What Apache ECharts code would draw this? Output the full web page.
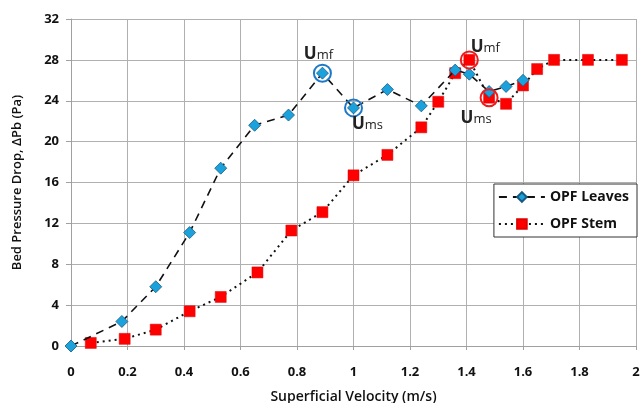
<!DOCTYPE html>
<html>
<head>
    <meta charset="utf-8">
    <title>Bed Pressure Drop</title>
    <script src="https://cdn.jsdelivr.net/npm/echarts@6/dist/echarts.min.js"></script>
    <style type="text/css">
    html, body { margin: 0; padding: 0; background: #fff; }
    #chart { width: 640px; height: 403px; }
    </style>
</head>
<body>
    <div id="chart"></div>
    <script>
    // data
    var leavesX = [0, 0.18, 0.30, 0.42, 0.53, 0.65, 0.77, 0.89, 1.00, 1.12, 1.24, 1.36, 1.41, 1.48, 1.54, 1.60];
    var leavesY = [0, 2.4, 5.8, 11.1, 17.4, 21.6, 22.6, 26.7, 23.3, 25.1, 23.5, 27.0, 26.6, 24.9, 25.4, 26.0];
    var stemX = [0.07, 0.19, 0.30, 0.42, 0.53, 0.66, 0.78, 0.89, 1.00, 1.12, 1.24, 1.30, 1.36, 1.41, 1.48, 1.54, 1.60, 1.65, 1.71, 1.83, 1.95];
    var stemY = [0.3, 0.7, 1.6, 3.4, 4.8, 7.2, 11.3, 13.1, 16.7, 18.7, 21.4, 23.9, 26.7, 28.0, 24.3, 23.7, 25.5, 27.1, 28.0, 28.0, 28.0];
    // Umf / Ums points (index into the series above)
    var leavesMarks = [7, 8];
    var stemMarks = [13, 14];
    var markNames = ['mf', 'ms'];

    function pairs(xs, ys) {
        var out = [];
        for (var i = 0; i < xs.length; i++) out.push([xs[i], ys[i]]);
        return out;
    }

    var labelOffsets = {
        leaves: [[-4, 4], [14, 39]],
        stem: [[16, 10], [-13, 43]]
    };

    function marks(xs, ys, idx, offs) {
        return idx.map(function (k, j) {
            return {
                value: [xs[k], ys[k]],
                label: {
                    show: true,
                    position: 'top',
                    offset: offs[j],
                    formatter: '{u|U}{s|' + markNames[j] + '}'
                }
            };
        });
    }

    var rich = {
        u: { fontSize: 17, fontWeight: 'bold', color: '#222', fontFamily: 'Open Sans' },
        s: { fontSize: 13, color: '#222', fontFamily: 'Open Sans', padding: [3, 0, 0, 0] }
    };

    var chart = echarts.init(document.getElementById('chart'));
    var option = {
        backgroundColor: '#fff',
        animation: false,
        grid: { left: 71, right: 4, top: 19, bottom: 57, outerBoundsMode: 'none', containLabel: false },
        xAxis: {
            type: 'value',
            min: 0, max: 2, interval: 0.2,
            name: 'Superficial Velocity (m/s)',
            nameLocation: 'middle',
            nameGap: 44,
            nameTextStyle: { fontSize: 14, fontWeight: 600, color: '#111', fontFamily: 'Open Sans' },
            axisLine: { lineStyle: { color: '#a0a0a0' } },
            axisTick: { show: true, length: 4, lineStyle: { color: '#a0a0a0' } },
            splitLine: { lineStyle: { color: '#b0b0b0' } },
            axisLabel: { fontSize: 13, fontWeight: 'bold', color: '#111', margin: 20, fontFamily: 'Open Sans' }
        },
        yAxis: {
            type: 'value',
            min: 0, max: 32, interval: 4,
            name: 'Bed Pressure Drop, ΔPb (Pa)',
            nameLocation: 'middle',
            nameGap: 47,
            nameTextStyle: { fontSize: 13, fontWeight: 600, color: '#111', fontFamily: 'Open Sans' },
            axisLine: { show: true, lineStyle: { color: '#a0a0a0' } },
            axisTick: { show: true, length: 5, lineStyle: { color: '#a0a0a0' } },
            splitLine: { lineStyle: { color: '#b0b0b0' } },
            axisLabel: { fontSize: 13, fontWeight: 'bold', color: '#111', margin: 12, fontFamily: 'Open Sans' }
        },
        legend: {
            orient: 'vertical',
            right: 3,
            top: 184,
            padding: [6, 8, 6, 4],
            itemGap: 13,
            itemWidth: 46,
            itemHeight: 12,
            borderColor: '#333',
            borderWidth: 1,
            backgroundColor: '#fff',
            data: ['OPF Leaves', 'OPF Stem'],
            textStyle: { fontSize: 14, fontWeight: 'bold', color: '#111', fontFamily: 'Open Sans' }
        },
        series: [
            {
                name: 'OPF Leaves',
                type: 'line',
                data: pairs(leavesX, leavesY),
                symbol: 'diamond',
                symbolSize: 12,
                itemStyle: { color: '#1ba1dc', borderColor: '#1a5a80', borderWidth: 0.8 },
                lineStyle: { color: '#111', width: 1.6, type: [8, 6] },
                z: 3
            },
            {
                name: 'OPF Stem',
                type: 'line',
                data: pairs(stemX, stemY),
                symbol: 'rect',
                symbolSize: 11,
                itemStyle: { color: '#ff0000', borderColor: '#e00000', borderWidth: 0.5 },
                lineStyle: { color: '#111', width: 2, type: [2, 4] },
                z: 2
            },
            {
                name: 'leaves marks',
                type: 'scatter',
                data: marks(leavesX, leavesY, leavesMarks, labelOffsets.leaves),
                symbol: 'circle',
                symbolSize: 17,
                itemStyle: { color: 'rgba(0,0,0,0)', borderColor: '#1e78c8', borderWidth: 2, opacity: 1 },
                label: { rich: rich, color: '#222' },
                silent: true,
                z: 4
            },
            {
                name: 'stem marks',
                type: 'scatter',
                data: marks(stemX, stemY, stemMarks, labelOffsets.stem),
                symbol: 'circle',
                symbolSize: 17,
                itemStyle: { color: 'rgba(0,0,0,0)', borderColor: '#ee1c1c', borderWidth: 2, opacity: 1 },
                label: { rich: rich, color: '#222' },
                silent: true,
                z: 4
            }
        ]
    };
    chart.setOption(option);
    </script>
</body>
</html>
